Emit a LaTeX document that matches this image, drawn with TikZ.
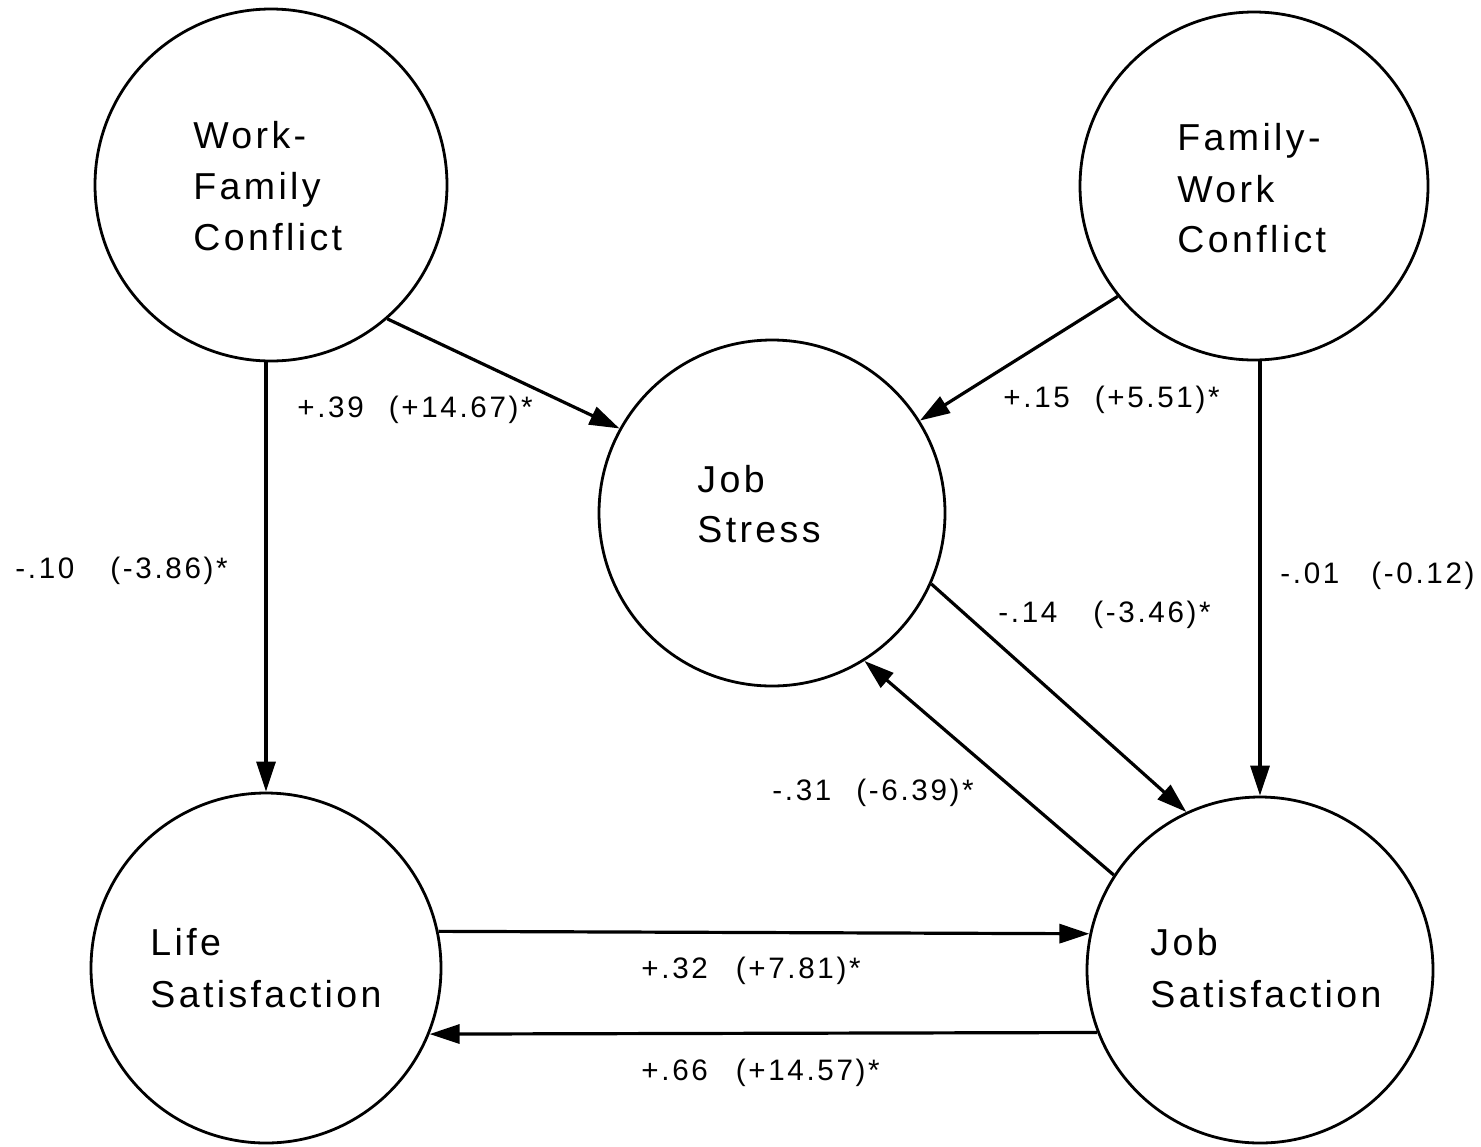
\documentclass[tikz,border=0pt]{standalone}
\usepackage{fontspec}
\setmainfont{Liberation Sans}
\newfontfamily\nodefont[LetterSpace=9]{Liberation Sans}
\newfontfamily\labfont[LetterSpace=9]{Liberation Sans}
\usetikzlibrary{arrows.meta}
\begin{document}
\begin{tikzpicture}[x=0.5pt,y=-0.5pt,
  latent/.style={circle,draw,line width=1.4pt,inner sep=0pt},
  ntext/.style={anchor=base west,inner sep=0pt,font=\nodefont\fontsize{18.75}{22}\selectfont},
  coef/.style={anchor=base west,inner sep=0pt,font=\labfont\fontsize{14.8}{17}\selectfont},
  conn/.style={line width=1.6pt,-{Triangle[length=15pt,width=9.5pt]}}
]
\useasboundingbox (0,0) rectangle (1481,1146);
% latent variables
\node[latent,minimum size=176pt] (wfc) at (271,185) {};
\node[latent,minimum size=174pt] (fwc) at (1254,186) {};
\node[latent,minimum size=173pt] (js) at (772,513) {};
\node[latent,minimum size=175pt] (ls) at (266,968) {};
\node[latent,minimum size=173pt] (jsat) at (1260,970) {};
% texts
\node[ntext] (wfc1) at (193,148) {Work-};
\node[ntext] (wfc2) at (193,199) {Family};
\node[ntext] (wfc3) at (193,250) {Conflict};
\node[ntext] (fwc1) at (1177,150) {Family-};
\node[ntext] (fwc2) at (1177,202) {Work};
\node[ntext] (fwc3) at (1177,252) {Conflict};
\node[ntext] (js1) at (697,492) {Job};
\node[ntext] (js2) at (697,542) {Stress};
\node[ntext] (ls1) at (150,955) {Life};
\node[ntext] (ls2) at (150,1007) {Satisfaction};
\node[ntext] (jsat1) at (1150,955) {Job};
\node[ntext] (jsat2) at (1150,1007) {Satisfaction};
% connectors
\draw[conn] (ls.north |- wfc.south) -- (ls.north);
\draw[conn] (wfc.-49) -- (js.151);
\draw[conn] (fwc.219) -- (js.32);
\draw[conn] (jsat.north |- fwc.south) -- (jsat.north);
\draw[conn] (js.-24) -- (jsat.115);
\draw[conn] (jsat.147) -- (js.-58);
\draw[conn] (ls.12) -- (jsat.168);
\draw[conn] (jsat.201) -- (ls.-22);
% coefficients
\node[coef] (c1) at (297,417) {+.39\hspace{12.5pt}(+14.67)*};
\node[coef] (c2) at (1003,407) {+.15\hspace{12.5pt}(+5.51)*};
\node[coef] (c3) at (15,578) {-.10\hspace{18pt}(-3.86)*};
\node[coef] (c4) at (1280,583) {-.01\hspace{16pt}(-0.12)};
\node[coef] (c5) at (998,622) {-.14\hspace{18pt}(-3.46)*};
\node[coef] (c6) at (772,800) {-.31\hspace{12.5pt}(-6.39)*};
\node[coef] (c7) at (641,978) {+.32\hspace{14pt}(+7.81)*};
\node[coef] (c8) at (641,1080) {+.66\hspace{14pt}(+14.57)*};
\end{tikzpicture}
\end{document}
